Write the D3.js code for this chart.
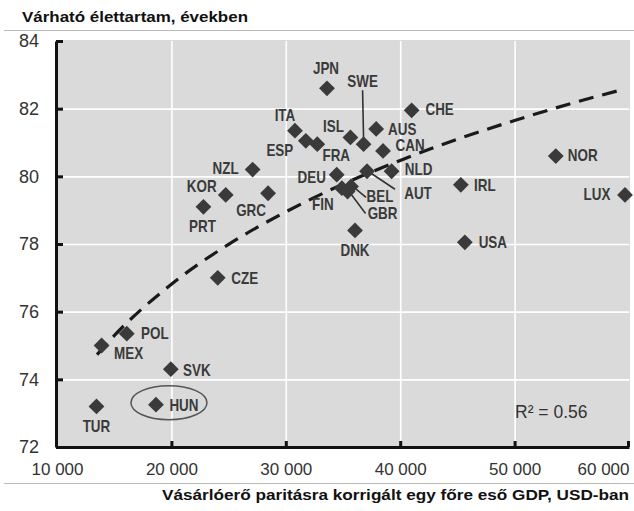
<!DOCTYPE html>
<html><head><meta charset="utf-8">
<script src="https://cdn.jsdelivr.net/npm/d3@7"></script>
<style>
html,body{margin:0;padding:0;background:#fff;}
svg{display:block;}
.lbl{font-family:"Liberation Sans",Arial,sans-serif;font-weight:bold;font-size:16px;fill:#3a3a3a;}
</style></head>
<body>
<svg id="chart" width="634" height="511"></svg>
<script>
// ---- data ----
const countries = ["JPN","SWE","ITA","ESP","FRA","ISL","AUS","CAN","CHE","NLD","AUT","DEU","FIN","BEL","GBR","DNK","NZL","KOR","PRT","GRC","CZE","POL","MEX","SVK","HUN","TUR","NOR","IRL","LUX","USA"];
const gdp = [33600,36800,30800,31750,32750,35650,37900,38500,41000,39250,37100,34450,34900,35700,35400,36050,27100,24750,22800,28450,24050,16100,13900,19950,18650,13450,53600,45300,59650,45650];
const lifeExp = [82.6,80.95,81.35,81.05,80.95,81.15,81.4,80.75,81.95,80.15,80.15,80.05,79.65,79.7,79.55,78.4,80.2,79.45,79.1,79.5,77.0,75.35,75.0,74.3,73.25,73.2,80.6,79.75,79.45,78.05];
const trendGdp = [13500,15000,20000,25000,30000,35000,40000,45000,50000,55000,59500];
const trendLife = [74.73,75.29,76.81,77.99,78.95,79.77,80.47,81.10,81.65,82.16,82.57];
const yTicks = [72,74,76,78,80,82,84];
const xTicks = [10000,20000,30000,40000,50000,60000];
const titleText = "Várható élettartam, években";
const xTitle = "Vásárlóerő paritásra korrigált egy főre eső GDP, USD-ban";
const r2Text = "R² = 0.56";
const highlight = "HUN";

// ---- layout (label offsets in px relative to marker) ----
const labelOffset = {
  JPN:[-1,-20], SWE:[-1,-63], ITA:[-10,-15], ESP:[-26,9], FRA:[19,11], ISL:[-17,-11],
  AUS:[26,0], CAN:[27,-6], CHE:[28,-1], NLD:[27,-2], AUT:[51,22], DEU:[-25,3],
  FIN:[-19,16], BEL:[29,10], GBR:[35,22], DNK:[0,20], NZL:[-27,-1], KOR:[-24,-9],
  PRT:[-1,19], GRC:[-17,17], CZE:[27,0], POL:[28,0], MEX:[27,8], SVK:[26,1],
  HUN:[28,1], TUR:[0,20], NOR:[27,-1], IRL:[24,0], LUX:[-28,-1], USA:[28,0]
};
const leaders = {
  SWE:[[-1,-54],[0,-4]], AUT:[[28,18],[4,2]], BEL:[[15,11],[3,1]], GBR:[[18,22],[3,2]]
};

const svg = d3.select("#chart");
const x = d3.scaleLinear().domain([10000,60000]).range([57,629]);
const y = d3.scaleLinear().domain([72,84]).range([447,41]);

// title + rules
svg.append("text").attr("x",22).attr("y",22)
  .attr("textLength",226).attr("lengthAdjust","spacingAndGlyphs")
  .style("font-family","Liberation Sans, Arial, sans-serif").style("font-weight","bold")
  .style("font-size","15.5px").style("fill","#111").text(titleText);
svg.append("line").attr("x1",4).attr("x2",634).attr("y1",30.5).attr("y2",30.5)
  .attr("stroke","#bbb").attr("stroke-width",1);
svg.append("line").attr("x1",4).attr("x2",634).attr("y1",483.5).attr("y2",483.5)
  .attr("stroke","#bbb").attr("stroke-width",1);

// plot background
svg.append("rect").attr("x",x(10000)).attr("y",y(84)-1)
  .attr("width",x(60000)-x(10000)+1).attr("height",y(72)-y(84)+1).attr("fill","#dadada");

// grid
const gy = svg.append("g").attr("transform",`translate(${x(10000)},0)`)
  .call(d3.axisLeft(y).tickValues(yTicks.filter(v=>v>72 && v<84)).tickSize(-(x(60000)-x(10000))).tickFormat(""));
gy.select(".domain").remove();
gy.selectAll("line").attr("stroke","#fff").attr("stroke-width",1.6);
const gx = svg.append("g").attr("transform",`translate(0,${y(84)})`)
  .call(d3.axisBottom(x).tickValues(xTicks.filter(v=>v>10000 && v<60000)).tickSize(y(72)-y(84)).tickFormat(""));
gx.select(".domain").remove();
gx.selectAll("line").attr("stroke","#fff").attr("stroke-width",1.6);

// trend line
const trend = trendGdp.map((g,i)=>[g,trendLife[i]]);
svg.append("path").datum(trend)
  .attr("d", d3.line().x(d=>x(d[0])).y(d=>y(d[1])).curve(d3.curveMonotoneX))
  .attr("fill","none").attr("stroke","#1a1a1a").attr("stroke-width",3.2)
  .attr("stroke-dasharray","15,9");

// leaders
const pts = countries.map((c,i)=>({c, px:x(gdp[i]), py:y(lifeExp[i])}));
pts.filter(p=>leaders[p.c]).forEach(p=>{
  const L = leaders[p.c];
  svg.append("line").attr("x1",p.px+L[0][0]).attr("y1",p.py+L[0][1])
    .attr("x2",p.px+L[1][0]).attr("y2",p.py+L[1][1])
    .attr("stroke","#333").attr("stroke-width",1.6);
});

// markers
svg.append("g").selectAll("path").data(pts).join("path")
  .attr("transform",p=>`translate(${p.px},${p.py}) rotate(45)`)
  .attr("d", d3.symbol().type(d3.symbolSquare).size(125))
  .attr("fill","#3a3a3a");

// labels
svg.append("g").selectAll("text").data(pts).join("text")
  .attr("class","lbl")
  .attr("transform",p=>`translate(${p.px+labelOffset[p.c][0]},${p.py+labelOffset[p.c][1]}) scale(0.84,1)`)
  .attr("text-anchor","middle").attr("dy","0.36em").text(p=>p.c);

// highlight ellipse
const h = pts.find(p=>p.c===highlight);
svg.append("ellipse").attr("cx",h.px+13).attr("cy",h.py-2).attr("rx",38).attr("ry",17)
  .attr("fill","none").attr("stroke","#555").attr("stroke-width",1.5);

// axes
const fmt = d => d3.format(",")(d).replace(",", " ");
const ay = svg.append("g").attr("transform",`translate(${x(10000)-1},0)`)
  .call(d3.axisLeft(y).tickValues(yTicks).tickSize(-7).tickSizeOuter(0).tickPadding(17));
const ax = svg.append("g").attr("transform",`translate(0,${y(72)})`)
  .call(d3.axisBottom(x).tickValues(xTicks).tickSize(-6).tickSizeOuter(0).tickPadding(16).tickFormat(fmt));
[ay,ax].forEach(a=>{
  a.select(".domain").attr("stroke","#111").attr("stroke-width",3);
  a.selectAll(".tick line").attr("stroke","#111").attr("stroke-width",3);
  a.selectAll("text").style("font-family","Liberation Sans, Arial, sans-serif")
   .style("font-size","17px").style("fill","#333");
});
ay.selectAll("text").style("font-size","18px");
ax.selectAll(".tick").filter(d=>d===10000).select("line").remove();
ax.selectAll(".tick").filter(d=>d===60000).select("text").attr("text-anchor","end").attr("x",0);
ax.selectAll(".tick").filter(d=>d===60000).select("line").attr("transform","translate(-1,0)");

// R2
svg.append("text").attr("x",515).attr("y",418)
  .style("font-family","Liberation Sans, Arial, sans-serif").style("font-size","17.5px")
  .style("fill","#333").text(r2Text);

// x title
svg.append("text").attr("x",629).attr("y",500).attr("text-anchor","end")
  .attr("textLength",467).attr("lengthAdjust","spacingAndGlyphs")
  .style("font-family","Liberation Sans, Arial, sans-serif").style("font-weight","bold")
  .style("font-size","15.5px").style("fill","#111").text(xTitle);
</script>
</body></html>
